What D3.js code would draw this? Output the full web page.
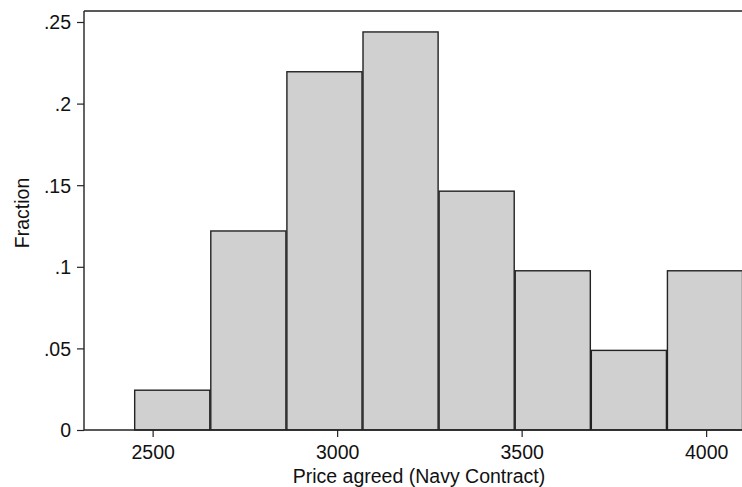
<!DOCTYPE html>
<html>
<head>
<meta charset="utf-8">
<script src="https://cdn.jsdelivr.net/npm/d3@7"></script>
<style>
  html, body { margin: 0; padding: 0; background: #fff; }
  svg { display: block; }
  text { font-family: "Liberation Sans", Arial, Helvetica, sans-serif; fill: #111; }
</style>
</head>
<body>
<svg id="chart" width="742" height="487"></svg>
<script>
// Histogram of contract prices: 8 bins starting at 2450, width 206.25
const binStart = 2450;
const binWidth = 206.25;
const fractions = [1/41, 5/41, 9/41, 10/41, 6/41, 4/41, 2/41, 4/41];
const xTicks = [2500, 3000, 3500, 4000];
const yTicks = [0, 0.05, 0.1, 0.15, 0.2, 0.25];
const yTickLabels = ["0", ".05", ".1", ".15", ".2", ".25"];

const svg = d3.select("#chart");
const plotLeft = 84, plotTop = 11, plotBottom = 430, plotRight = 770;
const fontSize = "19.5px";

const x = d3.scaleLinear().domain([2314, 2314 + (plotRight - plotLeft) / 0.369]).range([plotLeft, plotRight]);
const y = d3.scaleLinear().domain([0, 0.25]).range([plotBottom, 22]);

const bins = fractions.map((f, i) => ({ x0: binStart + i * binWidth, x1: binStart + (i + 1) * binWidth, f }));

// bars
svg.append("g").selectAll("rect").data(bins).join("rect")
  .attr("x", d => x(d.x0) + 0.5)
  .attr("y", d => y(d.f))
  .attr("width", d => x(d.x1) - x(d.x0) - 1)
  .attr("height", d => y(0) - y(d.f))
  .attr("fill", "#d0d0d0")
  .attr("stroke", "#222")
  .attr("stroke-width", 1.4);

// frame: top line of the plot region
svg.append("line").attr("x1", plotLeft).attr("x2", plotRight).attr("y1", plotTop).attr("y2", plotTop)
  .attr("stroke", "#222").attr("stroke-width", 1.4);

// y axis
const yAxis = d3.axisLeft(y).tickValues(yTicks).tickSize(7).tickPadding(6)
  .tickFormat((d, i) => yTickLabels[i]);
const gy = svg.append("g").attr("transform", `translate(${plotLeft},0)`).call(yAxis);
gy.attr("font-size", null).attr("font-family", null);
gy.select(".domain").remove();
gy.selectAll(".tick line").attr("stroke", "#222").attr("stroke-width", 1.2);
gy.selectAll(".tick text").style("font-size", fontSize).attr("dy", "0.35em").attr("fill", "#111");
svg.append("line").attr("x1", plotLeft).attr("x2", plotLeft).attr("y1", plotTop).attr("y2", plotBottom)
  .attr("stroke", "#222").attr("stroke-width", 1.4);

// x axis
const xAxis = d3.axisBottom(x).tickValues(xTicks).tickSize(7).tickPadding(8).tickFormat(d3.format("d"));
const gx = svg.append("g").attr("transform", `translate(0,${plotBottom})`).call(xAxis);
gx.attr("font-size", null).attr("font-family", null);
gx.select(".domain").remove();
gx.selectAll(".tick line").attr("stroke", "#222").attr("stroke-width", 1.2);
gx.selectAll(".tick text").style("font-size", fontSize).attr("fill", "#111");
svg.append("line").attr("x1", plotLeft).attr("x2", plotRight).attr("y1", plotBottom).attr("y2", plotBottom)
  .attr("stroke", "#222").attr("stroke-width", 1.4);

// axis titles
svg.append("text").attr("x", 419).attr("y", 483).attr("text-anchor", "middle")
  .style("font-size", fontSize).text("Price agreed (Navy Contract)");
svg.append("text").attr("transform", "translate(29,213) rotate(-90)").attr("text-anchor", "middle")
  .style("font-size", fontSize).text("Fraction");
</script>
</body>
</html>
